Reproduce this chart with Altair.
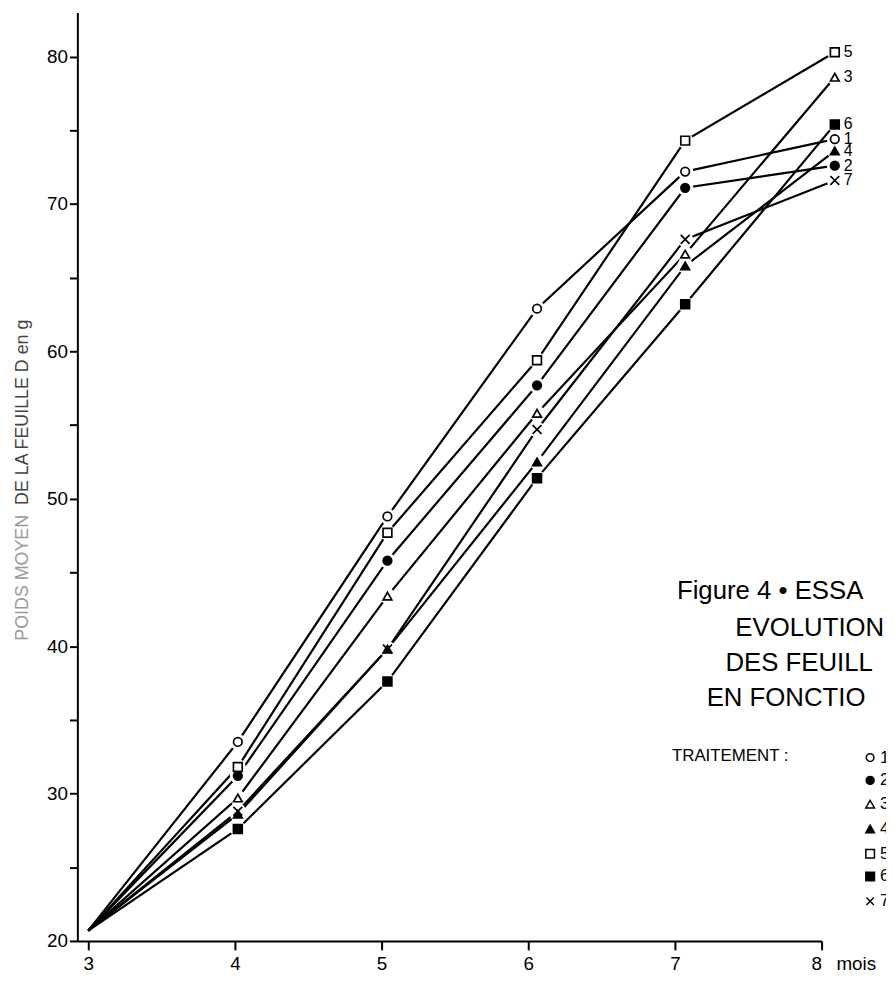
import altair as alt
import pandas as pd

# ---- data ----
months = [3, 4.02, 5.04, 6.06, 7.07, 8.09]
t1 = [20.7, 33.5, 48.8, 62.9, 72.2, 74.4]   # open circle
t2 = [20.7, 31.2, 45.8, 57.7, 71.1, 72.6]   # filled circle
t3 = [20.7, 29.7, 43.4, 55.8, 66.6, 78.6]   # open triangle
t4 = [20.7, 28.6, 39.8, 52.5, 65.8, 73.6]   # filled triangle
t5 = [20.7, 31.8, 47.7, 59.4, 74.3, 80.3]   # open square
t6 = [20.7, 27.6, 37.6, 51.4, 63.2, 75.4]   # filled square
t7 = [20.7, 28.8, 39.8, 54.7, 67.6, 71.6]   # cross
series_names = ["1", "2", "3", "4", "5", "6", "7"]
series_vals = [t1, t2, t3, t4, t5, t6, t7]
y_ticks = [20, 25, 30, 35, 40, 45, 50, 55, 60, 65, 70, 75, 80]
x_ticks = [3, 4, 5, 6, 7, 8]
title_lines = ["Figure 4 \u2022 ESSA", "EVOLUTION", "DES FEUILL", "EN FONCTIO"]

rows = []
for name, vals in zip(series_names, series_vals):
    for i, (m, v) in enumerate(zip(months, vals)):
        rows.append({"serie": name, "idx": i, "mois": m, "poids": v})
df = pd.DataFrame(rows)

XPATH = "M-1,-1L1,1M1,-1L-1,1"
shape_range = ["circle", "circle", "triangle-up", "triangle-up", "square", "square", XPATH]
fill_range = ["white", "black", "white", "black", "white", "black", "white"]
size_range = [75, 80, 95, 95, 95, 95, 70]

FONT = "Liberation Sans"
W, H = 751, 937
xs = alt.Scale(domain=[2.926, 8.0], nice=False, zero=False)
ys = alt.Scale(domain=[20, 83], nice=False, zero=False)

X = alt.X("mois:Q", scale=xs, axis=alt.Axis(
    values=x_ticks, format="d", title=None, grid=False, domainColor="black", domainWidth=2,
    tickColor="black", tickWidth=2, tickSize=9, labelPadding=5,
    labelFont=FONT, labelFontSize=19, labelColor="black"))
Y = alt.Y("poids:Q", scale=ys, axis=alt.Axis(
    values=y_ticks, title=None, grid=False, domainColor="black", domainWidth=2,
    tickColor="black", tickWidth=2, tickSize=8, labelPadding=2,
    labelExpr="datum.value % 10 == 0 ? datum.label : ''",
    labelFont=FONT, labelFontSize=19, labelColor="black"))

base = alt.Chart(df)

lines = base.mark_line(color="black", strokeWidth=2.2).encode(
    x=X, y=Y, detail="serie:N", order="idx:Q")

pts = base.transform_filter("datum.idx > 0")
halo = pts.mark_point(filled=True, color="white", opacity=1, size=260, shape="circle").encode(
    x="mois:Q", y="poids:Q")
markers = pts.mark_point(opacity=1, stroke="black", strokeWidth=1.7).encode(
    x="mois:Q", y="poids:Q",
    shape=alt.Shape("serie:N", scale=alt.Scale(domain=series_names, range=shape_range), legend=None),
    fill=alt.Fill("serie:N", scale=alt.Scale(domain=series_names, range=fill_range), legend=None),
    size=alt.Size("serie:N", scale=alt.Scale(domain=series_names, range=size_range), legend=None))

end_labels = base.transform_filter("datum.idx == 5").mark_text(
    align="left", baseline="middle", dx=9, fontSize=16, font=FONT, color="black"
).encode(x="mois:Q", y="poids:Q", text="serie:N")

layers = [lines, halo, markers, end_labels]

# y title (two tones, reading upward)
layers.append(alt.Chart(pd.DataFrame({"t": ["POIDS MOYEN"]})).mark_text(
    angle=270, align="left", baseline="middle", fontSize=18, font=FONT, color="#9a9a9a"
).encode(text="t:N", x=alt.value(-55), y=alt.value(634)))
layers.append(alt.Chart(pd.DataFrame({"t": ["DE LA FEUILLE D en g"]})).mark_text(
    angle=270, align="left", baseline="middle", fontSize=18, font=FONT, color="#444444"
).encode(text="t:N", x=alt.value(-55), y=alt.value(497)))

# "mois"
layers.append(alt.Chart(pd.DataFrame({"t": ["mois"]})).mark_text(
    align="left", baseline="top", fontSize=19, font=FONT, color="black"
).encode(text="t:N", x=alt.value(766), y=alt.value(H + 14)))

# figure title lines
title_pos = [(605, 592), (664, 629), (654, 665), (635, 700)]
for txt, (px, py) in zip(title_lines, title_pos):
    layers.append(alt.Chart(pd.DataFrame({"t": [txt]})).mark_text(
        align="left", baseline="alphabetic", fontSize=26, font=FONT, color="black"
    ).encode(text="t:N", x=alt.value(px), y=alt.value(py)))

layers.append(alt.Chart(pd.DataFrame({"t": ["TRAITEMENT :"]})).mark_text(
    align="left", baseline="alphabetic", fontSize=17, font=FONT, color="black"
).encode(text="t:N", x=alt.value(600), y=alt.value(755)))

# legend
leg_y = [752, 775, 799, 824, 849, 872, 897]
for i, name in enumerate(series_names):
    d = pd.DataFrame({"serie": [name]})
    layers.append(alt.Chart(d).mark_point(
        opacity=1, stroke="black", strokeWidth=1.5,
        shape=shape_range[i], fill=fill_range[i], size=size_range[i] * 0.8
    ).encode(x=alt.value(800), y=alt.value(leg_y[i])))
    layers.append(alt.Chart(d).mark_text(
        align="left", baseline="middle", fontSize=17, font=FONT, color="black"
    ).encode(text="serie:N", x=alt.value(810), y=alt.value(leg_y[i])))

chart = alt.layer(*layers).properties(
    width=W, height=H,
    background="white",
    autosize=alt.AutoSizeParams(type="none"),
    padding={"left": 70, "top": 0, "right": 65, "bottom": 38},
).configure_view(stroke=None)

chart.save("out.html", embed_options={"renderer": "svg", "actions": False})
